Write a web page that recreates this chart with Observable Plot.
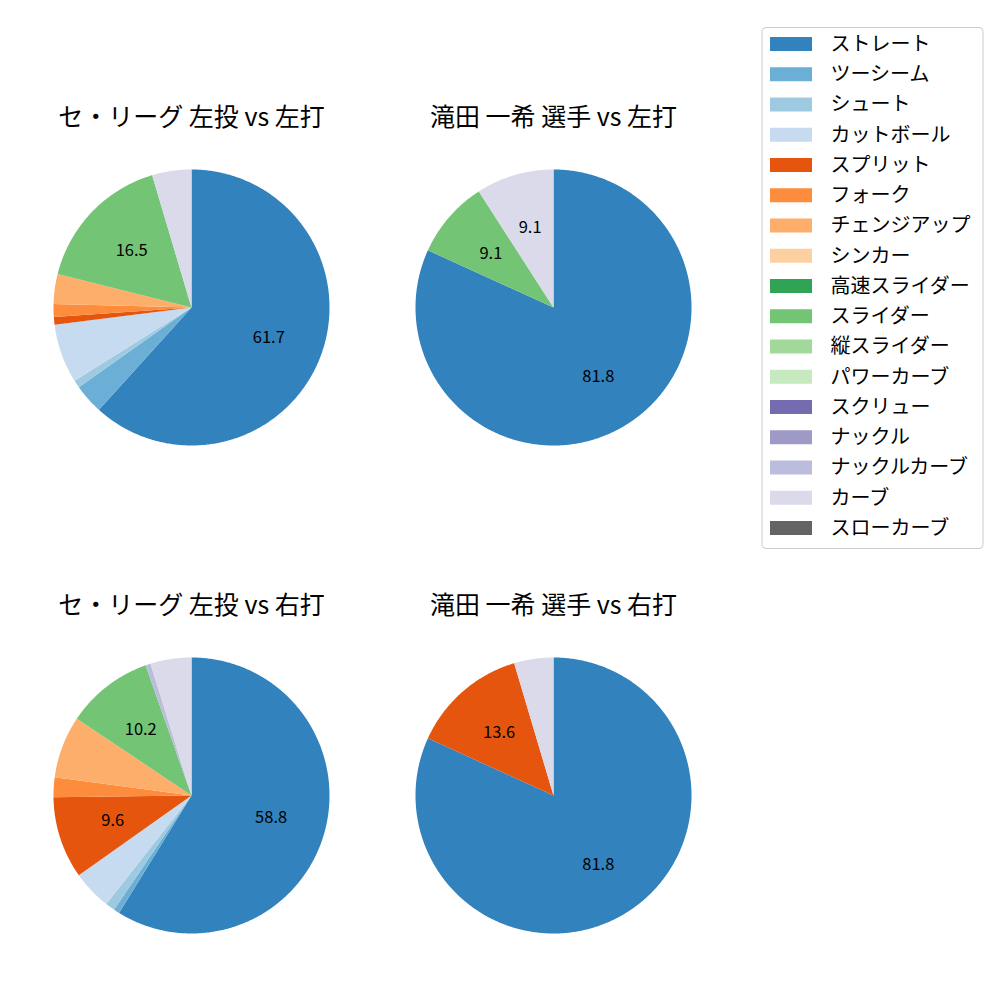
<!DOCTYPE html>
<html>
<head>
<meta charset="utf-8">
<script src="https://cdn.jsdelivr.net/npm/d3@7"></script>
<script src="https://cdn.jsdelivr.net/npm/@observablehq/plot@0.6"></script>
<style>
  html, body { margin: 0; padding: 0; background: #fff; }
  #chart { width: 1000px; height: 1000px; }
</style>
</head>
<body>
<div id="chart"></div>
<script>
// ---- data ----
const pitchTypes = ["ストレート","ツーシーム","シュート","カットボール","スプリット","フォーク","チェンジアップ","シンカー","高速スライダー","スライダー","縦スライダー","パワーカーブ","スクリュー","ナックル","ナックルカーブ","カーブ","スローカーブ"];
const palette = ["#3182bd","#6baed6","#9ecae1","#c6dbef","#e6550d","#fd8d3c","#fdae6b","#fdd0a2","#31a354","#74c476","#a1d99b","#c7e9c0","#756bb1","#9e9ac8","#bcbddc","#dadaeb","#636363"];
const titles = ["セ・リーグ 左投 vs 左打","滝田 一希 選手 vs 左打","セ・リーグ 左投 vs 右打","滝田 一希 選手 vs 右打"];
//                     ストレ ツー  シュ  カット スプリ フォー チェン シン 高速 スラ  縦  パワ スク ナッ ナカ カーブ スロ
const leagueVsLeft  = [61.7, 3.5, 0.9, 6.9, 0.9, 1.5, 3.5, 0, 0, 16.5, 0, 0, 0, 0, 0,   4.6, 0];
const playerVsLeft  = [81.8, 0,   0,   0,   0,   0,   0,   0, 0, 9.1,  0, 0, 0, 0, 0,   9.1, 0];
const leagueVsRight = [58.8, 0.7, 1.1, 4.6, 9.6, 2.3, 7.3, 0, 0, 10.2, 0, 0, 0, 0, 0.6, 4.8, 0];
const playerVsRight = [81.8, 0,   0,   0,   13.6,0,   0,   0, 0, 0,    0, 0, 0, 0, 0,   4.6, 0];
const series = [leagueVsLeft, playerVsLeft, leagueVsRight, playerVsRight];
const labelThreshold = 8;

// ---- layout ----
const centers = [[191, 307], [553, 307], [191, 795], [553, 795]];
const R = 138;
const titleDy = -190;

const slicePts = [];
const labels = [];
const pie = d3.pie().sort(null).value(d => d.v).startAngle(0).endAngle(2 * Math.PI);
series.forEach((vals, k) => {
  const [cx, cy] = centers[k];
  const items = pitchTypes.map((p, i) => ({p, v: vals[i]})).filter(d => d.v > 0);
  pie(items).forEach((a, j) => {
    const id = k + "-" + j;
    slicePts.push({id, p: a.data.p, x: cx, y: cy});
    const n = Math.max(2, Math.ceil((a.endAngle - a.startAngle) / 0.01));
    for (let s = 0; s <= n; s++) {
      const t = a.startAngle + (a.endAngle - a.startAngle) * s / n;
      slicePts.push({id, p: a.data.p, x: cx + R * Math.sin(t), y: cy - R * Math.cos(t)});
    }
    if (a.data.v >= labelThreshold) {
      const m = (a.startAngle + a.endAngle) / 2;
      labels.push({x: cx + 0.6 * R * Math.sin(m), y: cy - 0.6 * R * Math.cos(m), text: a.data.v.toFixed(1)});
    }
  });
});
const titleRows = titles.map((t, k) => ({t, x: centers[k][0], y: centers[k][1] + titleDy}));

const legendTop = 44, legendStep = 30.25;
const legendRows = pitchTypes.map((p, i) => ({p, y: legendTop + i * legendStep}));

const chart = Plot.plot({
  width: 1000,
  height: 1000,
  margin: 0,
  style: {fontFamily: "'Noto Sans CJK JP', 'Noto Sans', sans-serif", background: "#fff"},
  x: {domain: [0, 1000], range: [0, 1000], axis: null},
  y: {domain: [0, 1000], range: [0, 1000], axis: null},
  color: {type: "ordinal", domain: pitchTypes, range: palette},
  marks: [
    Plot.line(slicePts, {x: "x", y: "y", z: "id", fill: "p", stroke: "none", curve: "linear"}),
    Plot.text(labels, {x: "x", y: "y", text: "text", fontSize: 16.5, fill: "#000", textAnchor: "middle", lineAnchor: "middle"}),
    Plot.text(titleRows, {x: "x", y: "y", text: "t", fontSize: 25, fill: "#000", textAnchor: "middle", lineAnchor: "middle"}),
    Plot.rect([0], {x1: 762, x2: 983, y1: 27.5, y2: 548.5, fill: "#fff", stroke: "#cccccc", strokeWidth: 1, rx: 4}),
    Plot.rect(legendRows, {x1: 770, x2: 812, y1: d => d.y - 7, y2: d => d.y + 7, fill: "p"}),
    Plot.text(legendRows, {x: 830, y: "y", text: "p", fontSize: 20, fill: "#000", textAnchor: "start", lineAnchor: "middle"})
  ]
});
document.getElementById("chart").appendChild(chart);
</script>
</body>
</html>
